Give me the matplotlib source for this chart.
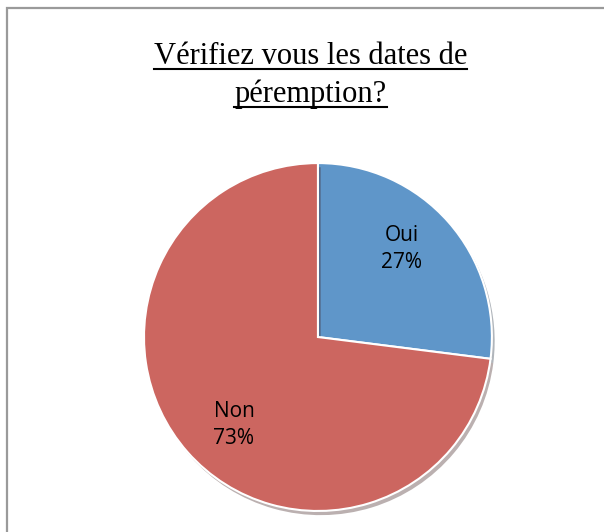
import matplotlib
matplotlib.use("Agg")
import numpy as np
import matplotlib.pyplot as plt
import matplotlib.patheffects as pe
from matplotlib.lines import Line2D
from matplotlib.patches import Rectangle

# data
labels = ["Oui", "Non"]
values = [27, 73]
colors = ["#5F96C9", "#CC6660"]
title_lines = ["Vérifiez vous les dates de", "péremption?"]

fig = plt.figure(figsize=(6.04, 5.32), dpi=100)

# chart border (cut at right and bottom like the screenshot)
fig.patches.append(Rectangle((7 / 604, -0.05), 1.2, 1.05 - 8 / 532, transform=fig.transFigure,
                             fill=False, edgecolor="#9a9a9a", linewidth=1.6))

ax = fig.add_axes([0.2384, 0.0395, 0.576, 0.654])
wedges, texts = ax.pie(values, colors=colors, startangle=90, counterclock=False,
                       wedgeprops=dict(edgecolor="white", linewidth=1.5))
for w in wedges:
    w.set_path_effects([pe.SimplePatchShadow(offset=(2, -3), alpha=0.35), pe.Normal()])
ax.set_xlim(-1, 1)
ax.set_ylim(-1, 1)
ax.set_aspect("equal")

# data labels
for w, lab, v in zip(wedges, labels, values):
    ang = np.deg2rad((w.theta1 + w.theta2) / 2 + 5)
    ax.text(0.70 * np.cos(ang), 0.70 * np.sin(ang), "{}\n{}%".format(lab, v),
            ha="center", va="center", fontsize=15, family="Open Sans", linespacing=1.4)

# underlined title
baselines = [64, 102]
underlines = [68.5, 107]
fig.canvas.draw()
renderer = fig.canvas.get_renderer()
for line, yb, yu in zip(title_lines, baselines, underlines):
    t = fig.text(310.5 / 604, 1 - yb / 532, line, ha="center", va="baseline",
                 fontsize=22, family="Liberation Serif")
    bb = t.get_window_extent(renderer=renderer)
    fig.add_artist(Line2D([bb.x0 / 604, bb.x1 / 604], [1 - yu / 532] * 2,
                          transform=fig.transFigure, color="black", linewidth=1.5))

fig.savefig("out.png", dpi=100)
